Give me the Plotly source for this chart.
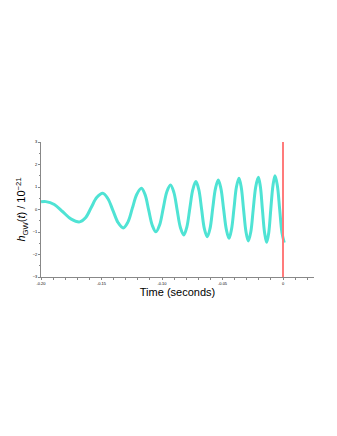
import plotly.graph_objects as go

# Points (time in seconds, strain in 1e-21)
time_s = [-0.200, -0.196, -0.189, -0.182, -0.175, -0.168,
          -0.1632, -0.1585, -0.1538, -0.149,
          -0.1448, -0.1405, -0.1362, -0.132,
          -0.1282, -0.1245, -0.1208, -0.117,
          -0.114, -0.111, -0.108, -0.105,
          -0.102, -0.099, -0.096, -0.093,
          -0.0902, -0.0875, -0.0848, -0.082,
          -0.0795, -0.077, -0.0745, -0.072,
          -0.0696, -0.0673, -0.0650, -0.0626,
          -0.0603, -0.0581, -0.0558, -0.0535,
          -0.0513, -0.0491, -0.0468, -0.0446,
          -0.0426, -0.0405, -0.0385, -0.0364,
          -0.0345, -0.0326, -0.0306, -0.0287,
          -0.0266, -0.0246, -0.0225, -0.0204,
          -0.0187, -0.0170, -0.0152, -0.0135,
          -0.0118, -0.0101, -0.0083, -0.0066,
          -0.0047, -0.0028, -0.0009, 0.0010]
strain = [0.34, 0.35, 0.22, -0.10, -0.43, -0.55,
          -0.37, 0.09, 0.54, 0.72,
          0.49, -0.05, -0.59, -0.82,
          -0.56, 0.06, 0.68, 0.94,
          0.66, -0.03, -0.71, -0.99,
          -0.69, 0.05, 0.79, 1.09,
          0.76, -0.02, -0.80, -1.13,
          -0.78, 0.06, 0.89, 1.24,
          0.88, 0.02, -0.85, -1.21,
          -0.84, 0.05, 0.94, 1.31,
          0.93, 0.02, -0.90, -1.28,
          -0.89, 0.06, 1.00, 1.39,
          0.98, 0.00, -0.99, -1.40,
          -0.99, 0.02, 1.02, 1.43,
          1.01, -0.02, -1.04, -1.46,
          -1.03, 0.02, 1.07, 1.50,
          1.07, 0.03, -1.02, -1.47]

merger_time = [0, 0]
merger_span = [3, -3]

x_ticks = [-0.20, -0.15, -0.10, -0.05, 0]
x_tick_labels = ["-0.20", "-0.15", "-0.10", "-0.05", "0"]
y_ticks = [-3, -2, -1, 0, 1, 2, 3]

fig = go.Figure()
fig.add_trace(go.Scatter(x=time_s, y=strain, mode="lines",
                         line=dict(color="#4fe3d4", width=3, shape="spline", smoothing=1.0),
                         hoverinfo="skip", showlegend=False))
fig.add_trace(go.Scatter(x=merger_time, y=merger_span, mode="lines",
                         line=dict(color="#ff7b7b", width=2),
                         hoverinfo="skip", showlegend=False))

fig.update_layout(
    width=337, height=436,
    margin=dict(l=33, r=31, t=134, b=167),
    paper_bgcolor="white", plot_bgcolor="white",
    font=dict(family="Liberation Sans, Arial, sans-serif", color="black"),
    xaxis=dict(range=[-0.2, 0.0256], tickvals=x_ticks, ticktext=x_tick_labels,
               automargin=False,
               showgrid=False, zeroline=False, showline=True, linecolor="#888",
               linewidth=1, ticks="outside", ticklen=2, tickcolor="#888",
               tickfont=dict(size=4),
               minor=dict(dtick=0.01, ticks="outside", ticklen=1.5, tickcolor="#888"),
               title=dict(text="Time (seconds)", font=dict(size=11), standoff=3)),
    yaxis=dict(range=[-3, 3], tickvals=y_ticks, automargin=False,
               showgrid=False, zeroline=False, showline=True, linecolor="#888",
               linewidth=1, ticks="outside", ticklen=2, tickcolor="#888",
               tickfont=dict(size=4),
               minor=dict(dtick=0.5, ticks="outside", ticklen=1.5, tickcolor="#888"),
               title=dict(text="<i>h</i><sub>GW</sub>(<i>t</i>) / 10<sup>−21</sup>",
                          font=dict(size=11), standoff=4)),
)

fig.write_html("out.html")
